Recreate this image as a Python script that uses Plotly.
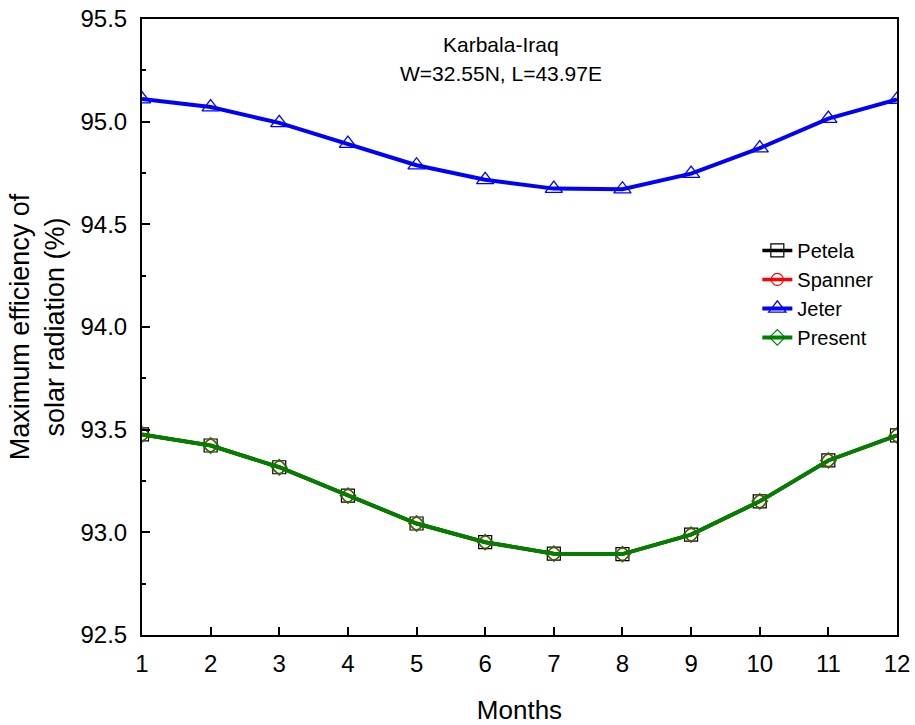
import plotly.graph_objects as go

months = list(range(1, 13))
petela = [93.477, 93.423, 93.317, 93.179, 93.043, 92.952, 92.896, 92.894, 92.989, 93.151, 93.350, 93.472]
spanner = [93.477, 93.423, 93.317, 93.179, 93.043, 92.952, 92.896, 92.894, 92.989, 93.151, 93.350, 93.472]
jeter = [95.110, 95.071, 94.994, 94.893, 94.788, 94.717, 94.674, 94.671, 94.747, 94.871, 95.015, 95.108]
present = [93.477, 93.423, 93.317, 93.179, 93.043, 92.952, 92.896, 92.894, 92.989, 93.151, 93.350, 93.472]

x_ticks = list(range(1, 13))
y_ticks = [92.5, 93.0, 93.5, 94.0, 94.5, 95.0, 95.5]

fig = go.Figure()
fig.add_trace(go.Scatter(x=months, y=petela, name="Petela", mode="lines+markers",
                         line=dict(color="black", width=3.5),
                         marker=dict(symbol="square-open", size=13, color="black", line=dict(width=1.2))))
fig.add_trace(go.Scatter(x=months, y=spanner, name="Spanner", mode="lines+markers",
                         line=dict(color="red", width=3.5),
                         marker=dict(symbol="circle-open", size=12, color="red", line=dict(width=1.2))))
fig.add_trace(go.Scatter(x=months, y=jeter, name="Jeter", mode="lines+markers",
                         line=dict(color="blue", width=4),
                         marker=dict(symbol="triangle-up-open", size=15, color="blue", line=dict(width=1.3))))
fig.add_trace(go.Scatter(x=months, y=present, name="Present", mode="lines+markers",
                         line=dict(color="green", width=4),
                         marker=dict(symbol="diamond-open", size=12, color="green", line=dict(width=1.2))))

font_family = "Liberation Sans, Arial, sans-serif"

fig.update_layout(
    width=915, height=725,
    margin=dict(l=142, r=18, t=19, b=90),
    paper_bgcolor="white", plot_bgcolor="white",
    font=dict(family=font_family, size=24, color="black"),
    showlegend=True,
    legend=dict(x=0.815, y=0.656, xanchor="left", yanchor="top",
                bgcolor="rgba(0,0,0,0)", font=dict(size=20), tracegroupgap=0),
    annotations=[
        dict(text="Karbala-Iraq", x=0.475, y=0.958, xref="paper", yref="paper",
             showarrow=False, font=dict(size=21), xanchor="center", yanchor="middle"),
        dict(text="W=32.55N, L=43.97E", x=0.475, y=0.912, xref="paper", yref="paper",
             showarrow=False, font=dict(size=21), xanchor="center", yanchor="middle"),
    ],
)

fig.update_xaxes(
    range=[1, 12], tickmode="array", tickvals=x_ticks, ticktext=[str(v) for v in x_ticks],
    ticks="inside", ticklen=8, tickwidth=2, tickcolor="black",
    showline=True, linecolor="black", linewidth=2, mirror=True,
    showgrid=False, zeroline=False, automargin=False,
    ticklabelstandoff=6,
    title=dict(text="Months", font=dict(size=26), standoff=25),
    tickfont=dict(size=24),
)
fig.update_yaxes(
    range=[92.5, 95.5], tickmode="array", tickvals=y_ticks, ticktext=[f"{v:.1f}" for v in y_ticks],
    ticks="inside", ticklen=8, tickwidth=2, tickcolor="black",
    minor=dict(ticks="inside", ticklen=4, tickwidth=2, tickcolor="black", dtick=0.25, tick0=92.5, showgrid=False),
    showline=True, linecolor="black", linewidth=2, mirror=True,
    showgrid=False, zeroline=False, automargin=False,
    ticklabelstandoff=8,
    title=dict(text="Maximum efficiency of<br>solar radiation (%)", font=dict(size=27), standoff=8),
    tickfont=dict(size=24),
)

fig.write_html("out.html")
